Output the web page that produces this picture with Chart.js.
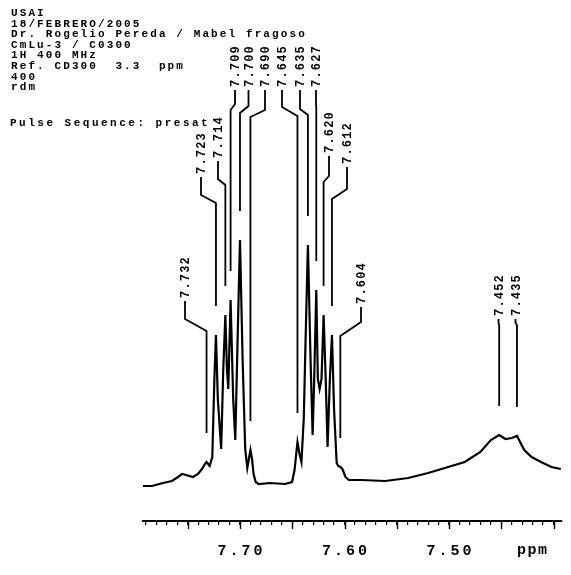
<!DOCTYPE html>
<html>
<head>
<meta charset="utf-8">
<script src="https://cdn.jsdelivr.net/npm/chart.js@4/dist/chart.umd.min.js"></script>
<style>
  html, body { margin: 0; padding: 0; background: #fff; }
  #spec { display: block; }
</style>
</head>
<body>
<canvas id="spec" width="571" height="575"></canvas>
<script>
// 1H NMR trace, chemical shift (ppm) and intensity (arbitrary units)
const tracePpm = [
  7.7928, 7.7842, 7.7737, 7.7651, 7.7593, 7.7555, 7.7517, 7.7450, 7.7402, 7.7364,
  7.7335, 7.7320, 7.7290, 7.7265, 7.7245, 7.7230, 7.7212, 7.7180, 7.7160, 7.7140,
  7.7125, 7.7112, 7.7090, 7.7065, 7.7045, 7.7025, 7.7000, 7.6975, 7.6950, 7.6930,
  7.6915, 7.6900, 7.6885, 7.6870, 7.6850, 7.6820, 7.6713, 7.6569, 7.6502, 7.6478,
  7.6450, 7.6430, 7.6412, 7.6390, 7.6370, 7.6350, 7.6325, 7.6305, 7.6290, 7.6270,
  7.6255, 7.6238, 7.6220, 7.6200, 7.6180, 7.6162, 7.6140, 7.6120, 7.6100, 7.6075,
  7.6060, 7.6040, 7.6020, 7.5990, 7.5960, 7.5840, 7.5610, 7.5390, 7.5200, 7.5040,
  7.4850, 7.4700, 7.4600, 7.4520, 7.4460, 7.4400, 7.4350, 7.4280, 7.4210, 7.4120,
  7.4020, 7.3930
];
const traceInt = [
   43,  43,  46,  48,  52,  55,  54,  52,  55,  60,
   65,  67,  63,  72, 150, 194, 130,  80, 160, 214,
  160, 140, 229, 130,  89, 180, 289, 170,  80,  61,
   70,  79,  70,  55,  47,  45,  46,  45,  47,  59,
   87,  75,  67, 110, 200, 284, 170,  94, 150, 239,
  150, 140, 150, 214, 150,  82, 150, 194, 120,  66,
   63,  62,  60,  52,  49,  49,  48,  51,  56,  61,
   67,  77,  89,  94,  90,  91,  93,  79,  72,  67,
   62,  60
];

// peak picks printed above the trace
const peakLabels = [7.732, 7.723, 7.714, 7.709, 7.700, 7.690,
                    7.645, 7.635, 7.627, 7.620, 7.612, 7.604,
                    7.452, 7.435];

// axis labelling
const axisLabels = [7.70, 7.60, 7.50];
const minorStep = 0.01;
const majorStep = 0.05;

const headerLines = [
  'USAI',
  '18/FEBRERO/2005',
  'Dr. Rogelio Pereda / Mabel fragoso',
  'CmLu-3 / C0300',
  '1H 400 MHz',
  'Ref. CD300  3.3  ppm',
  '400',
  'rdm'
];
const pulseLine = 'Pulse Sequence: presat';

// where each peak-pick label sits (text x, text bottom) and how its leader bends
const labelSlots = [
  { x: 185,   bottom: 298, drop: 18, bend: 12 },
  { x: 201,   bottom: 174, drop: 18, bend: 8 },
  { x: 218,   bottom: 158, drop: 18, bend: 6 },
  { x: 235,   bottom: 87,  drop: 14, bend: 6 },
  { x: 248.5, bottom: 87,  drop: 16, bend: 7 },
  { x: 265,   bottom: 87,  drop: 20, bend: 7 },
  { x: 282,   bottom: 87,  drop: 17, bend: 9 },
  { x: 300,   bottom: 87,  drop: 19, bend: 6 },
  { x: 316,   bottom: 87,  drop: 14, bend: 4 },
  { x: 329,   bottom: 153, drop: 20, bend: 6 },
  { x: 347,   bottom: 164, drop: 22, bend: 10 },
  { x: 361,   bottom: 304, drop: 15, bend: 14 },
  { x: 498.5, bottom: 316, drop: 4,  bend: 2 },
  { x: 515.5, bottom: 316, drop: 4,  bend: 2 }
];

const INK = '#000';

function intensityAt(ppm) {
  let best = 0, bestD = Infinity;
  for (let i = 0; i < tracePpm.length; i++) {
    const d = Math.abs(tracePpm[i] - ppm);
    if (d < bestD) { bestD = d; best = i; }
  }
  return traceInt[best];
}

const annotate = {
  id: 'annotate',
  afterDraw(chart) {
    const ctx = chart.ctx;
    const xs = chart.scales.x;
    const ys = chart.scales.y;
    const axisY = chart.chartArea.bottom;

    ctx.save();
    ctx.fillStyle = INK;
    ctx.strokeStyle = INK;

    // acquisition header
    ctx.font = 'bold 11px "Liberation Mono", monospace';
    ctx.letterSpacing = '2.1px';
    ctx.textBaseline = 'alphabetic';
    ctx.textAlign = 'left';
    headerLines.forEach((t, i) => ctx.fillText(t, 11, 16 + i * 10.6));
    ctx.letterSpacing = '2.5px';
    ctx.fillText(pulseLine, 10, 126);

    // major ticks (longer than the library's minor ticks)
    ctx.lineWidth = 1.4;
    for (let v = 7.40; v <= 7.79 + 1e-9; v += majorStep) {
      const px = Math.round(xs.getPixelForValue(v)) + 0.5;
      ctx.beginPath();
      ctx.moveTo(px, axisY);
      ctx.lineTo(px, axisY + 8);
      ctx.stroke();
    }

    // axis numbers and unit
    ctx.font = 'bold 15px "Liberation Mono", monospace';
    ctx.letterSpacing = '3px';
    ctx.textAlign = 'center';
    ctx.textBaseline = 'alphabetic';
    axisLabels.forEach(v => {
      ctx.fillText(v.toFixed(2), xs.getPixelForValue(v) + 1.5, 555);
    });
    ctx.letterSpacing = '1.5px';
    ctx.textAlign = 'left';
    ctx.fillText('ppm', 517, 554);

    // peak picks: rotated values with bent leader lines down to each peak
    ctx.font = 'bold 12px "Liberation Mono", monospace';
    ctx.letterSpacing = '1.2px';
    ctx.lineWidth = 1.8;
    peakLabels.forEach((v, i) => {
      const s = labelSlots[i];
      const px = xs.getPixelForValue(v);
      const topY = ys.getPixelForValue(intensityAt(v));
      const endY = topY - 29;

      ctx.save();
      ctx.translate(s.x + 4, s.bottom);
      ctx.rotate(-Math.PI / 2);
      ctx.textAlign = 'left';
      ctx.textBaseline = 'alphabetic';
      ctx.fillText(v.toFixed(3), 0, 0);
      ctx.restore();

      const y0 = s.bottom + 3;
      const y1 = y0 + s.drop;
      const y2 = y1 + s.bend;
      ctx.beginPath();
      ctx.moveTo(s.x, y0);
      ctx.lineTo(s.x, y1);
      ctx.lineTo(px, y2);
      ctx.lineTo(px, endY);
      ctx.stroke();
    });

    ctx.restore();
  }
};

new Chart(document.getElementById('spec'), {
  type: 'line',
  data: {
    datasets: [{
      data: tracePpm.map((p, i) => ({ x: p, y: traceInt[i] })),
      borderColor: INK,
      borderWidth: 2.2,
      pointRadius: 0,
      tension: 0,
      fill: false
    }]
  },
  options: {
    responsive: false,
    devicePixelRatio: 1,
    animation: false,
    events: [],
    layout: { padding: { left: 143, right: 9, top: 0, bottom: 50 } },
    plugins: { legend: { display: false }, tooltip: { enabled: false }, title: { display: false } },
    scales: {
      x: {
        type: 'linear',
        reverse: true,
        min: 7.3919,
        max: 7.7928,
        border: { display: true, color: INK, width: 2 },
        grid: { display: true, drawOnChartArea: false, drawTicks: true, tickLength: 4, color: INK, lineWidth: 1.2 },
        ticks: { display: false, stepSize: minorStep, autoSkip: false, includeBounds: false }
      },
      y: {
        display: false,
        min: 8,
        max: 529
      }
    }
  },
  plugins: [annotate]
});
</script>
</body>
</html>
